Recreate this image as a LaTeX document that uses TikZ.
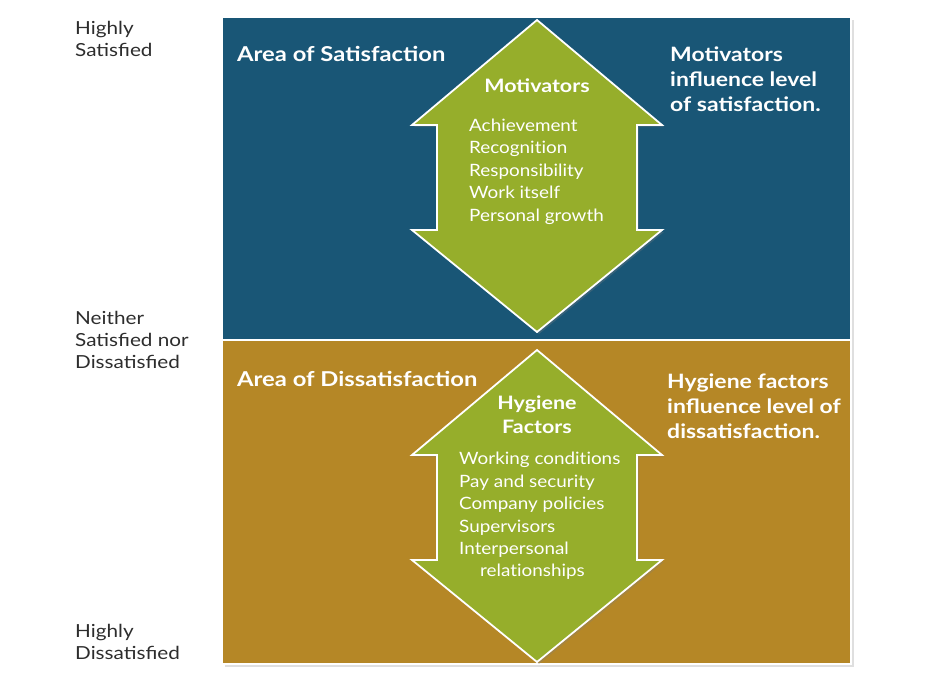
\documentclass[tikz,border=0pt]{standalone}
\usepackage{fontspec}
\setmainfont{Lato}
\newfontfamily\scalefont{Lato}[FakeStretch=1.15]
\newfontfamily\listfont{Lato}[FakeStretch=1.11,Ligatures=NoCommon]
\newfontfamily\headfont{Lato}[FakeStretch=1.16]
\usetikzlibrary{shadows}
\definecolor{satblue}{RGB}{25,86,118}
\definecolor{disgold}{RGB}{181,135,38}
\definecolor{factgreen}{RGB}{150,174,43}
\definecolor{scaletext}{RGB}{45,45,45}
\begin{document}
\begin{tikzpicture}[x=1pt,y=-1pt,
  area/.style={draw=white,line width=2pt,drop shadow={shadow xshift=3pt,shadow yshift=-3pt,opacity=0.25}},
  dblarrow/.style={draw=white,line width=1.8pt,fill=factgreen,line join=miter,drop shadow={shadow xshift=2pt,shadow yshift=-2pt,opacity=0.3}},
  scalelabel/.style={inner sep=0,anchor=west,align=left,text=scaletext,font=\scalefont\fontsize{18}{22.3}\selectfont},
  arealabel/.style={inner sep=0,anchor=west,text=white,font=\headfont\bfseries\fontsize{20.5}{25}\selectfont},
  sidenote/.style={inner sep=0,anchor=west,align=left,text=white,font=\headfont\bfseries\fontsize{19.8}{25}\selectfont},
  factorhead/.style={inner sep=0,align=center,text=white,font=\headfont\bfseries\fontsize{18.5}{24}\selectfont},
  factorlist/.style={inner sep=0,anchor=west,align=left,text=white,font=\listfont\fontsize{17}{22.4}\selectfont}]

\useasboundingbox (0,0) rectangle (943,681);

% the two areas
\draw[area,fill=satblue] (222,17) rectangle (851,340);
\draw[area,fill=disgold] (222,340) rectangle (851,664);

% double arrows
\draw[dblarrow] (537,20) -- (662,125) -- (637,125) -- (637,230) -- (662,230) -- (537,332)
  -- (412,230) -- (437,230) -- (437,125) -- (412,125) -- cycle;
\draw[dblarrow] (537,350) -- (662,455) -- (637,455) -- (637,560) -- (662,560) -- (537,662)
  -- (412,560) -- (437,560) -- (437,455) -- (412,455) -- cycle;

% scale on the left
\node[scalelabel] (high) at (75,39) {Highly\\Satisfied};
\node[scalelabel] (neutral) at (75,340) {Neither\\Satisfied nor\\Dissatisfied};
\node[scalelabel] (low) at (75,642) {Highly\\Dissatisfied};

% satisfaction area
\node[arealabel] (satarea) at (237,54) {Area of Satisfaction};
\node[factorhead] (motiv) at (537,86) {Motivators};
\node[factorlist] (motivlist) at (469,171.5) {Achievement\\Recognition\\Responsibility\\Work itself\\Personal growth};
\node[sidenote] (motivnote) at (670,79) {Motivators\\influence level\\of satisfaction.};

% dissatisfaction area
\node[arealabel] (disarea) at (237,379) {Area of Dissatisfaction};
\node[factorhead] (hyg) at (537,415) {Hygiene\\Factors};
\node[factorlist] (hyglist) at (459,516) {Working conditions\\Pay and security\\Company policies\\Supervisors\\Interpersonal\\\hspace*{21pt}relationships};
\node[sidenote] (hygnote) at (667,406) {Hygiene factors\\influence level of\\dissatisfaction.};

\end{tikzpicture}
\end{document}
